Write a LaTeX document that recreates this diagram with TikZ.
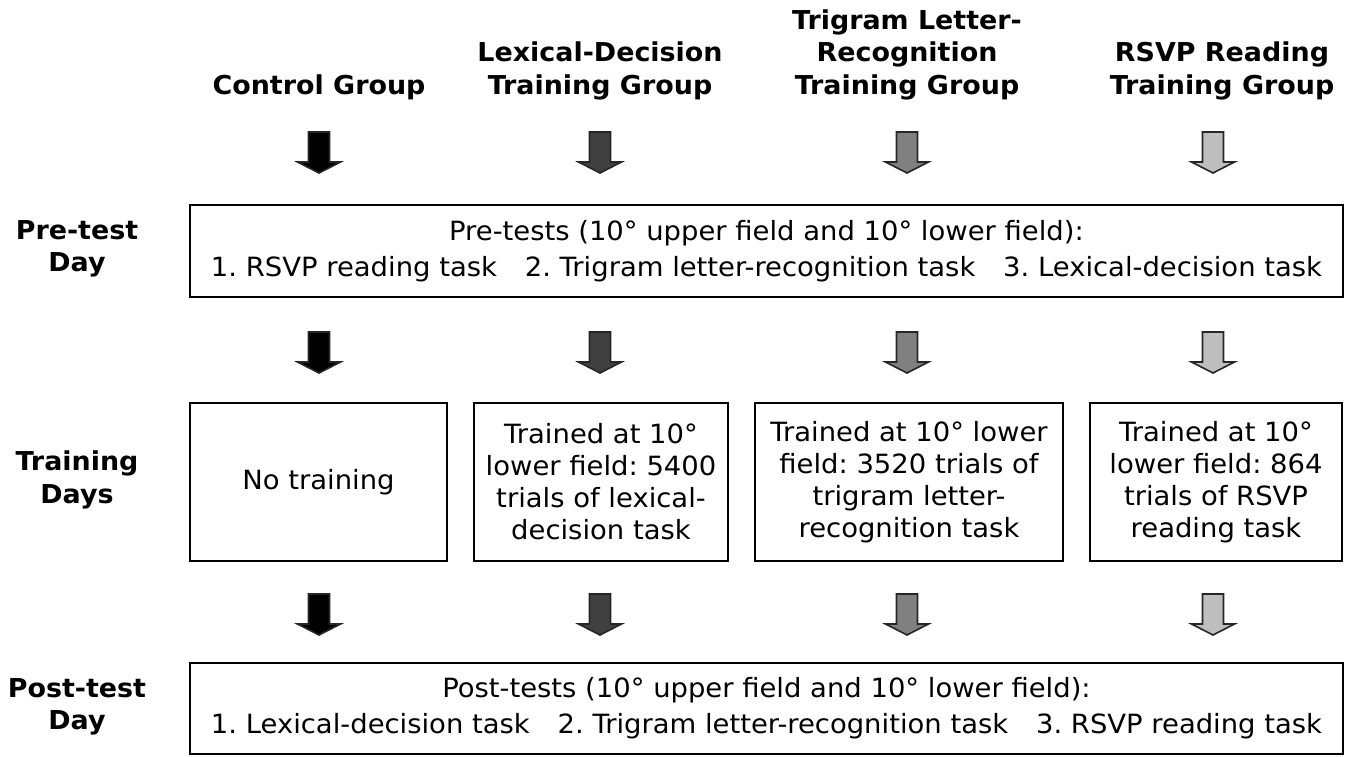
\documentclass[tikz,border=0pt]{standalone}
\usepackage{fontspec}
\setmainfont{DejaVu Sans}[FakeStretch=1.035]
\frenchspacing

% one shade per group
\definecolor{grpA}{gray}{0}
\definecolor{grpB}{HTML}{404040}
\definecolor{grpC}{HTML}{808080}
\definecolor{grpD}{HTML}{BEBEBE}

\tikzset{
  stage/.style={draw, line width=1.5pt, inner sep=0pt, align=center,
    font=\fontsize{26.5}{32}\selectfont},
  testbox/.style={stage, minimum width=1153pt, font=\fontsize{26.5}{36}\selectfont},
  grouphead/.style={align=center, font=\bfseries\fontsize{26}{32.5}\selectfont},
  daylabel/.style={align=center, font=\bfseries\fontsize{26}{32.5}\selectfont},
  % block arrow pointing down, centred on the pic origin
  pics/dnarrow/.style={code={
    \draw[line width=1.6pt, draw=black!85, fill=#1, line join=miter]
      (-10.5,-20.5) -- (10.5,-20.5) -- (10.5,9.5) -- (21.5,9.5)
      -- (0,20.5) -- (-21.5,9.5) -- (-10.5,9.5) -- cycle;
  }}
}

\begin{document}
\begin{tikzpicture}[x=1pt, y=-1pt]
  \useasboundingbox (0,0) rectangle (1353,756);
  \fill[white] (0,0) rectangle (1353,756);

  % Gruppen
  \node[grouphead] (ctrl) at (319,87.5) {Control Group};
  \node[grouphead] (lexgrp) at (600,71) {Lexical-Decision\\Training Group};
  \node[grouphead] (trigrp) at (907,54.5) {Trigram Letter-\\Recognition\\Training Group};
  \node[grouphead] (rsvpgrp) at (1222,71) {RSVP Reading\\Training Group};

  % Tage
  \node[daylabel] (preday) at (77,249) {Pre-test\\Day};
  \node[daylabel] (trainday) at (77,480) {Training\\Days};
  \node[daylabel] (postday) at (77,707) {Post-test\\Day};

  % Kaesten
  \node[testbox, minimum height=92pt] (pretest) at (766.5,251)
    {Pre-tests (10° upper field and 10° lower field):\\
     1. RSVP reading task\hspace{1.05em}2. Trigram letter-recognition task\hspace{1.05em}3. Lexical-decision task};
  \node[stage, minimum width=257pt, minimum height=158pt] (notrain) at (318.5,482)
    {No training};
  \node[stage, minimum width=254pt, minimum height=158pt] (lextrain) at (601,482)
    {Trained at 10°\\lower field: 5400\\trials of lexical-\\decision task};
  \node[stage, minimum width=308pt, minimum height=158pt] (tritrain) at (909,482)
    {Trained at 10° lower\\field: 3520 trials of\\trigram letter-\\recognition task};
  \node[stage, minimum width=252pt, minimum height=158pt] (rsvptrain) at (1216,482)
    {Trained at 10°\\lower field: 864\\trials of RSVP\\reading task};
  \node[testbox, minimum height=91pt] (posttest) at (766.5,708.5)
    {Post-tests (10° upper field and 10° lower field):\\
     1. Lexical-decision task\hspace{1.05em}2. Trigram letter-recognition task\hspace{1.05em}3. RSVP reading task};

  % Pfeile
  \foreach \col/\shade in {319/grpA, 600/grpB, 907/grpC, 1213/grpD}
    \foreach \row in {152.5, 352.5, 614.5}
      \pic at (\col,\row) {dnarrow=\shade};
\end{tikzpicture}
\end{document}
